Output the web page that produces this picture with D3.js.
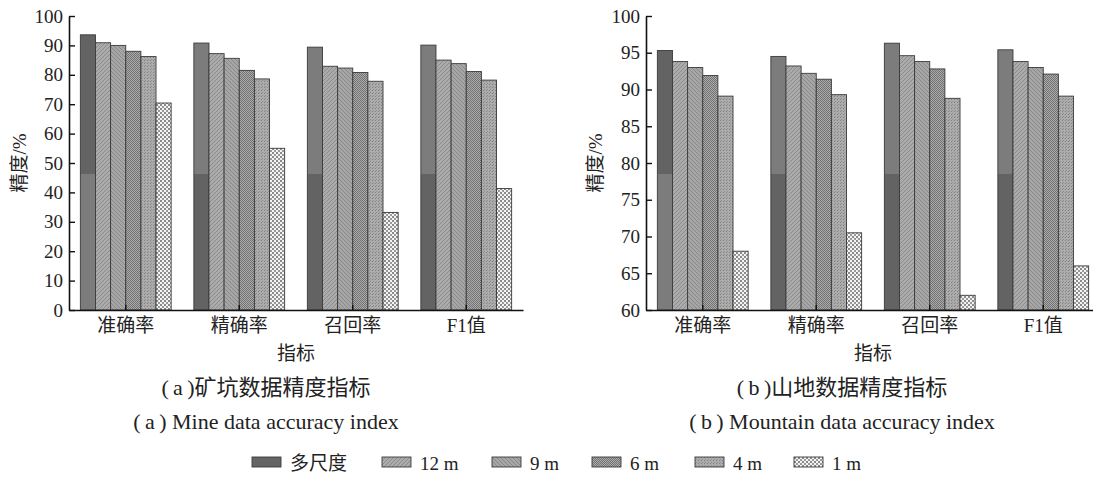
<!doctype html>
<html lang="zh">
<head>
<meta charset="utf-8">
<script src="https://d3js.org/d3.v7.min.js"></script>
<style>
  body { margin: 0; background: #fff; }
  svg text { font-family: "Liberation Serif", "Noto Sans CJK SC", serif; fill: #222; }
</style>
</head>
<body>
<div id="chart"></div>
<script>
// categories and series
const categories = ["准确率", "精确率", "召回率", "F1值"];
const seriesNames = ["多尺度", "12 m", "9 m", "6 m", "4 m", "1 m"];

// (a) mine data, one array per series, values per category
const mineMulti = [93.6, 90.8, 89.4, 90.1];
const mine12 = [90.9, 87.2, 82.9, 85.0];
const mine9 = [90.0, 85.6, 82.3, 83.8];
const mine6 = [88.0, 81.5, 80.8, 81.1];
const mine4 = [86.2, 78.6, 77.8, 78.2];
const mine1 = [70.4, 55.0, 33.2, 41.3];

// (b) mountain data
const mtnMulti = [95.3, 94.5, 96.3, 95.4];
const mtn12 = [93.8, 93.2, 94.6, 93.8];
const mtn9 = [93.0, 92.2, 93.8, 93.0];
const mtn6 = [91.9, 91.4, 92.8, 92.1];
const mtn4 = [89.1, 89.3, 88.8, 89.1];
const mtn1 = [68.0, 70.5, 62.0, 66.0];

const mineTicks = [0, 10, 20, 30, 40, 50, 60, 70, 80, 90, 100];
const mtnTicks = [60, 65, 70, 75, 80, 85, 90, 95, 100];

const FONT = '"Liberation Serif", "Noto Sans CJK SC", serif';
const W = 1093, H = 478;
const svg = d3.select("#chart").append("svg").attr("width", W).attr("height", H);
const defs = svg.append("defs");

// --- fill patterns, one per series ---
function pat(id, size, bg, draw) {
  const p = defs.append("pattern").attr("id", id).attr("patternUnits", "userSpaceOnUse")
    .attr("width", size).attr("height", size);
  p.append("rect").attr("width", size).attr("height", size).attr("fill", bg);
  draw(p);
}
pat("p12", 4, "#ababab", p => {
  p.append("path").attr("d", "M0,4 L4,0 M-1,1 L1,-1 M3,5 L5,3").attr("stroke", "#8c8c8c").attr("stroke-width", 1);
});
pat("p9", 4, "#a6a6a6", p => {
  p.append("path").attr("d", "M0,0 L4,4 M-1,3 L1,5 M3,-1 L5,1").attr("stroke", "#898989").attr("stroke-width", 1);
});
pat("p6", 2, "#ababab", p => {
  p.append("rect").attr("width", 1).attr("height", 1).attr("fill", "#727272");
  p.append("rect").attr("x", 1).attr("y", 1).attr("width", 1).attr("height", 1).attr("fill", "#727272");
});
pat("p4", 3, "#acacac", p => {
  p.append("rect").attr("width", 1).attr("height", 1).attr("fill", "#808080");
  p.append("rect").attr("x", 1).attr("y", 2).attr("width", 1).attr("height", 1).attr("fill", "#8e8e8e");
});
pat("p1", 4, "#f4f4f4", p => {
  p.append("rect").attr("x", 0).attr("y", 0).attr("width", 2).attr("height", 2).attr("fill", "#8a8a8a");
  p.append("rect").attr("x", 2).attr("y", 2).attr("width", 2).attr("height", 2).attr("fill", "#999999");
});

// the multi-scale bars show a two-tone split in the scan
const splitAt = 174.5 / H;
function grad(id, top, bottom) {
  const g = defs.append("linearGradient").attr("id", id)
    .attr("gradientUnits", "userSpaceOnUse").attr("x1", 0).attr("y1", 0).attr("x2", 0).attr("y2", H);
  g.append("stop").attr("offset", splitAt).attr("stop-color", top);
  g.append("stop").attr("offset", splitAt).attr("stop-color", bottom);
}
grad("gDarkTop", "#636363", "#7c7c7c");
grad("gLightTop", "#7c7c7c", "#636363");

const fills = ["url(#gLightTop)", "url(#p12)", "url(#p9)", "url(#p6)", "url(#p4)", "url(#p1)"];

function drawPanel(opts) {
  const { x0, x1, yBottom, yTop, domain, ticks, series, caption, captionEn, captionX, ylabelX } = opts;
  const g = svg.append("g");

  const x = d3.scaleBand().domain(categories).range([x0, x1]).paddingInner(0.2).paddingOuter(0.1);
  const xs = d3.scaleBand().domain(seriesNames).range([0, x.bandwidth()]);
  const y = d3.scaleLinear().domain(domain).range([yBottom, yTop]);

  const rows = [];
  series.forEach((vals, si) => vals.forEach((v, ci) => rows.push({ s: seriesNames[si], si, c: categories[ci], ci, v })));

  g.append("g").selectAll("rect").data(rows).enter().append("rect")
    .attr("x", d => x(d.c) + xs(d.s))
    .attr("y", d => y(d.v))
    .attr("width", xs.bandwidth())
    .attr("height", d => y(domain[0]) - y(d.v))
    .attr("fill", d => d.si === 0 ? (d.ci === 0 ? "url(#gDarkTop)" : "url(#gLightTop)") : fills[d.si])
    .attr("stroke", "#3a3a3a")
    .attr("stroke-width", 0.9);

  const yAxis = g.append("g").attr("transform", `translate(${x0},0)`)
    .call(d3.axisLeft(y).tickValues(ticks).tickSize(-6).tickSizeOuter(0).tickPadding(6));
  yAxis.attr("font-family", FONT);
  yAxis.select(".domain").attr("stroke", "#111").attr("stroke-width", 1.6);
  yAxis.selectAll(".tick line").attr("stroke", "#111").attr("stroke-width", 1.4);
  yAxis.selectAll("text").attr("font-size", 19).attr("fill", "#222");

  const xAxis = g.append("g").attr("transform", `translate(0,${yBottom})`)
    .call(d3.axisBottom(x).tickSize(-5).tickSizeOuter(0).tickPadding(9));
  xAxis.attr("font-family", FONT);
  xAxis.select(".domain").attr("stroke", "#111").attr("stroke-width", 1.6);
  xAxis.selectAll(".tick line").attr("stroke", "#111").attr("stroke-width", 1.4);
  xAxis.selectAll("text").attr("font-size", 19).attr("fill", "#222");

  g.append("text").attr("x", (x0 + x1) / 2).attr("y", yBottom + 50)
    .attr("text-anchor", "middle").attr("font-size", 19).text("指标");

  g.append("text").attr("transform", `translate(${ylabelX},${(yBottom + yTop) / 2}) rotate(-90)`)
    .attr("text-anchor", "middle").attr("font-size", 19).text("精度/%");

  g.append("text").attr("x", captionX).attr("y", 395)
    .attr("text-anchor", "middle").attr("font-size", 22).text(caption);
  g.append("text").attr("x", captionX).attr("y", 429)
    .attr("text-anchor", "middle").attr("font-size", 22).text(captionEn);
}

drawPanel({
  x0: 69, x1: 523, yBottom: 310, yTop: 16, domain: [0, 100], ticks: mineTicks,
  series: [mineMulti, mine12, mine9, mine6, mine4, mine1],
  caption: "(\u2009a\u2009)矿坑数据精度指标", captionEn: "(\u2009a\u2009) Mine data accuracy index",
  captionX: 266, ylabelX: 26
});

drawPanel({
  x0: 646, x1: 1100, yBottom: 310, yTop: 16, domain: [60, 100], ticks: mtnTicks,
  series: [mtnMulti, mtn12, mtn9, mtn6, mtn4, mtn1],
  caption: "(\u2009b\u2009)山地数据精度指标", captionEn: "(\u2009b\u2009) Mountain data accuracy index",
  captionX: 842, ylabelX: 602
});

// legend
const legendX = [252, 382, 492, 592, 695, 794];
const legend = svg.append("g").selectAll("g").data(seriesNames).enter().append("g")
  .attr("transform", (d, i) => `translate(${legendX[i]},457)`);
legend.append("rect").attr("width", 29).attr("height", 10)
  .attr("fill", (d, i) => i === 0 ? "#646464" : fills[i])
  .attr("stroke", "#3a3a3a").attr("stroke-width", 0.9);
legend.append("text").attr("x", 38).attr("y", 13).attr("font-size", 19).text(d => d);
</script>
</body>
</html>
